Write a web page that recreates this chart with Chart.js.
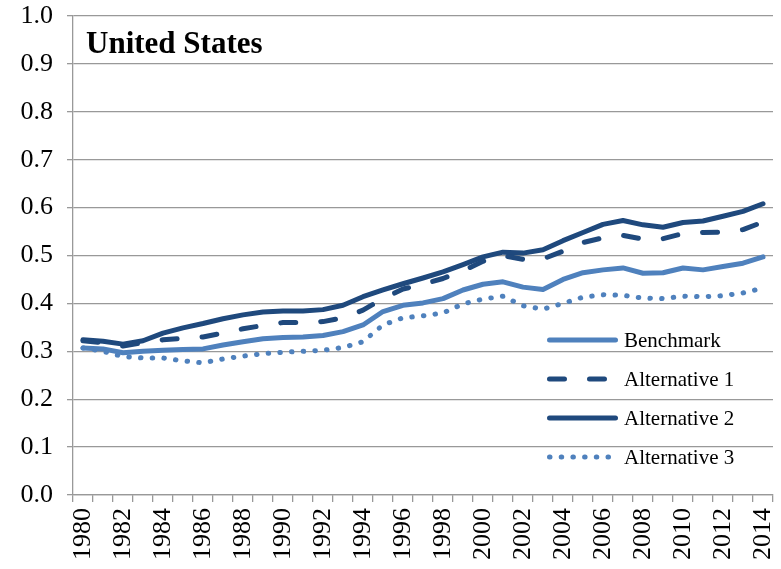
<!DOCTYPE html>
<html>
<head>
<meta charset="utf-8">
<script src="https://cdn.jsdelivr.net/npm/chart.js@4.4.0/dist/chart.umd.min.js"></script>
<style>
  html, body { margin: 0; padding: 0; background: #ffffff; }
  canvas { display: block; }
</style>
</head>
<body>
<canvas id="chart" width="781" height="569"></canvas>
<script>
// Years on the category axis
const years = ['1980','1981','1982','1983','1984','1985','1986','1987','1988','1989',
               '1990','1991','1992','1993','1994','1995','1996','1997','1998','1999',
               '2000','2001','2002','2003','2004','2005','2006','2007','2008','2009',
               '2010','2011','2012','2013','2014'];

// Series values
const benchmark = [0.307,0.305,0.297,0.300,0.302,0.304,0.305,0.313,0.320,0.326,
                   0.329,0.330,0.333,0.341,0.355,0.383,0.396,0.401,0.410,0.428,
                   0.440,0.445,0.434,0.429,0.450,0.464,0.470,0.474,0.463,0.464,
                   0.474,0.470,0.477,0.484,0.497];
const alternative1 = [0.322,0.318,0.311,0.318,0.324,0.327,0.330,0.338,0.347,0.354,
                      0.360,0.360,0.362,0.370,0.386,0.410,0.430,0.440,0.452,0.468,
                      0.488,0.500,0.492,0.493,0.509,0.527,0.537,0.542,0.534,0.535,
                      0.546,0.548,0.549,0.554,0.570];
const alternative2 = [0.324,0.321,0.315,0.322,0.338,0.349,0.358,0.368,0.376,0.382,
                      0.384,0.384,0.387,0.396,0.414,0.428,0.441,0.453,0.466,0.481,
                      0.497,0.507,0.505,0.512,0.531,0.548,0.565,0.573,0.564,0.559,
                      0.569,0.572,0.582,0.592,0.608];
const alternative3 = [0.307,0.300,0.289,0.286,0.286,0.280,0.276,0.284,0.290,0.295,
                      0.298,0.300,0.302,0.308,0.320,0.355,0.370,0.374,0.380,0.399,
                      0.409,0.415,0.395,0.388,0.400,0.413,0.418,0.417,0.411,0.410,
                      0.415,0.414,0.416,0.422,0.432];

const seriesNames = ['Benchmark', 'Alternative 1', 'Alternative 2', 'Alternative 3'];
const chartTitle = 'United States';

const LIGHT = '#4F81BD';
const DARK = '#1F497D';
const SERIF = "'Liberation Serif', 'Times New Roman', serif";

Chart.defaults.font.family = SERIF;
Chart.defaults.color = '#000000';

// Title drawn inside the plot, top-left
const insideTitle = {
  id: 'insideTitle',
  afterDraw(chart) {
    const { ctx, chartArea } = chart;
    ctx.save();
    ctx.font = 'bold 31px ' + SERIF;
    ctx.fillStyle = '#000000';
    ctx.textBaseline = 'alphabetic';
    ctx.textAlign = 'left';
    ctx.fillText(chartTitle, chartArea.left + 13, chartArea.top + 37);
    ctx.restore();
  }
};

// Legend drawn inside the plot, lower right, using each dataset's line style
const insideLegend = {
  id: 'insideLegend',
  afterDatasetsDraw(chart) {
    const { ctx, chartArea } = chart;
    const x0 = chartArea.right - 226;
    const sampleEnds = [71, 61, 71, 66];
    ctx.save();
    chart.data.datasets.forEach((ds, i) => {
      const y = chartArea.top + 324 + 39 * i;
      const w = ds.borderWidth;
      ctx.beginPath();
      ctx.strokeStyle = ds.borderColor;
      ctx.lineWidth = w;
      ctx.lineCap = 'round';
      ctx.setLineDash(ds.borderDash || []);
      ctx.moveTo(x0 + w / 2, y);
      ctx.lineTo(x0 + sampleEnds[i] - w / 2, y);
      ctx.stroke();
      ctx.setLineDash([]);
      ctx.font = '21px ' + SERIF;
      ctx.fillStyle = '#000000';
      ctx.textBaseline = 'middle';
      ctx.textAlign = 'left';
      ctx.fillText(ds.label, x0 + 77, y + 1);
    });
    ctx.restore();
  }
};

new Chart(document.getElementById('chart'), {
  type: 'line',
  data: {
    labels: years,
    datasets: [
      { label: seriesNames[0], data: benchmark, borderColor: LIGHT, borderWidth: 5,
        borderCapStyle: 'round', borderJoinStyle: 'round' },
      { label: seriesNames[1], data: alternative1, borderColor: DARK, borderWidth: 5,
        borderDash: [15, 25], borderCapStyle: 'round', borderJoinStyle: 'round' },
      { label: seriesNames[2], data: alternative2, borderColor: DARK, borderWidth: 5,
        borderCapStyle: 'round', borderJoinStyle: 'round' },
      { label: seriesNames[3], data: alternative3, borderColor: LIGHT, borderWidth: 5,
        borderDash: [0.5, 11.2], borderCapStyle: 'round', borderJoinStyle: 'round' }
    ]
  },
  options: {
    responsive: false,
    animation: false,
    devicePixelRatio: 1,
    layout: { padding: { left: 0, top: 16, right: 8, bottom: 0 }, autoPadding: false },
    elements: { point: { radius: 0 }, line: { tension: 0 } },
    plugins: {
      legend: { display: false },
      title: { display: false },
      tooltip: { enabled: false }
    },
    scales: {
      x: {
        type: 'category',
        offset: true,
        grid: {
          offset: true,
          drawOnChartArea: false,
          drawTicks: true,
          tickLength: 7,
          color: '#999999',
          lineWidth: 1.3
        },
        border: { color: '#999999', width: 1.3 },
        ticks: {
          autoSkip: false,
          minRotation: 90,
          maxRotation: 90,
          padding: 6,
          font: { size: 26, family: SERIF },
          color: '#000000',
          callback: function (value, index) {
            return index % 2 === 0 ? years[index] : '';
          }
        },
        afterFit(scale) {
          scale.height = 74;
          scale.paddingLeft = 0;
          scale.paddingRight = 0;
        }
      },
      y: {
        min: 0,
        max: 1,
        grid: {
          color: '#999999',
          lineWidth: 1.3,
          drawTicks: true,
          tickLength: 6
        },
        border: { color: '#999999', width: 1.3 },
        ticks: {
          stepSize: 0.1,
          padding: 14,
          font: { size: 26, family: SERIF },
          color: '#000000',
          callback: function (v) { return v.toFixed(1); }
        },
        afterFit(scale) {
          scale.width = 73;
          scale.paddingTop = 0;
          scale.paddingBottom = 0;
        }
      }
    }
  },
  plugins: [insideTitle, insideLegend]
});
</script>
</body>
</html>
